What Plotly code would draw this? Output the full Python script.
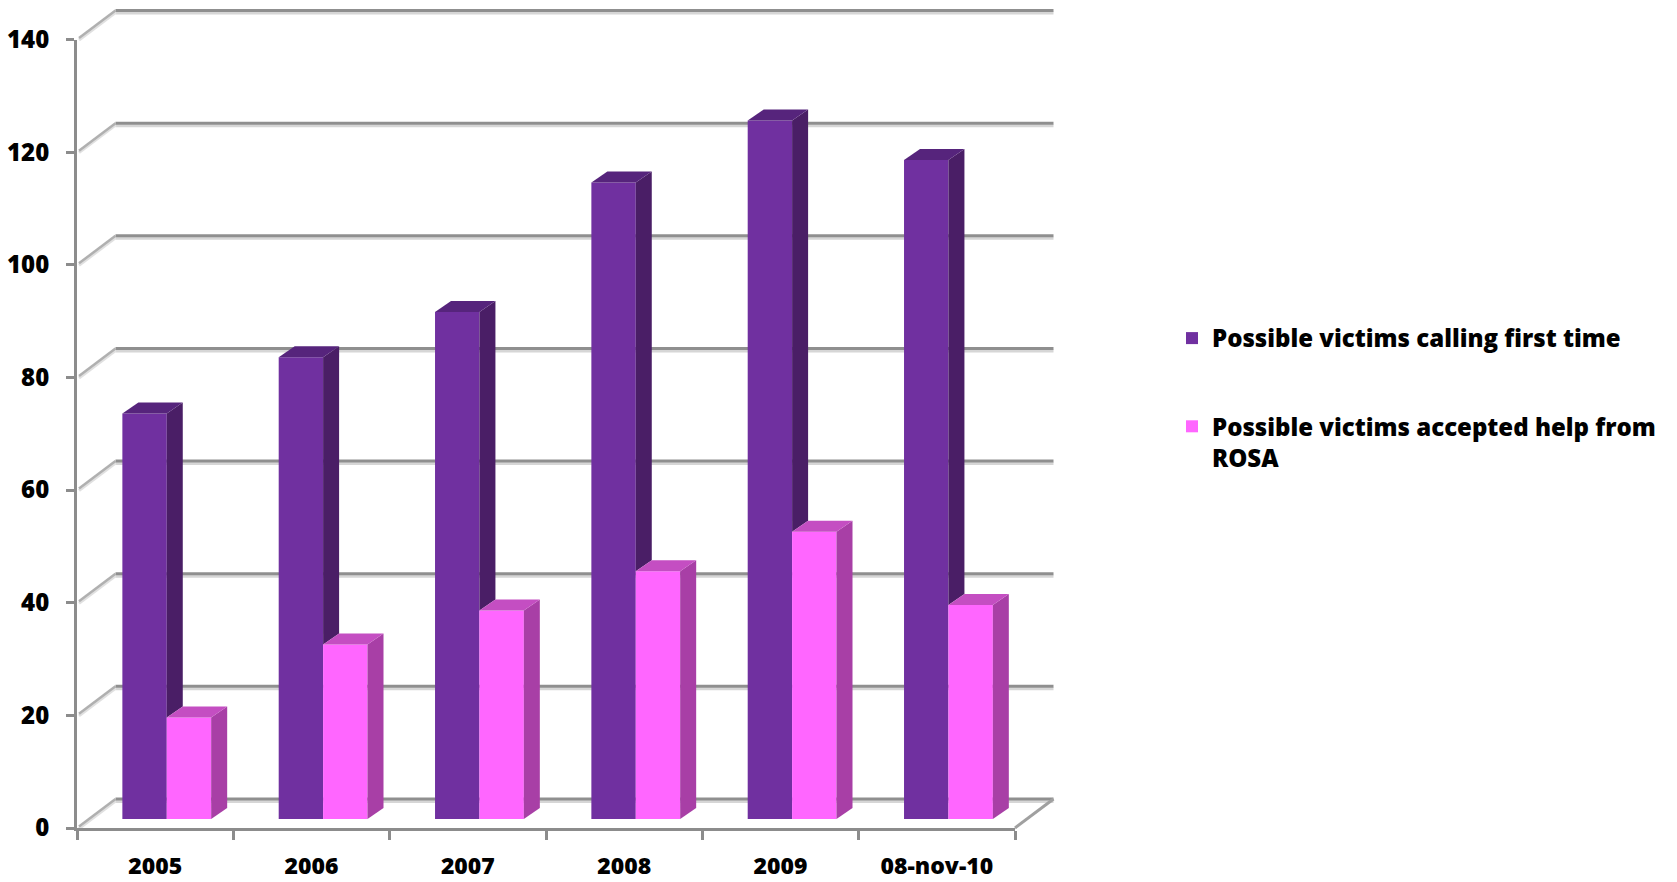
import plotly.graph_objects as go

# ---------------- data ----------------
categories = ["2005", "2006", "2007", "2008", "2009", "08-nov-10"]
first_time = [72, 82, 90, 113, 124, 117]
accepted_help = [18, 31, 37, 44, 51, 38]
y_ticks = [0, 20, 40, 60, 80, 100, 120, 140]
series_names = ["Possible victims calling first time",
                "Possible victims accepted help from<br>ROSA"]

# ---------------- geometry (pixels) ----------------
W, H = 1677, 882
front_left, front_right = 77, 1015      # front x-axis extent
front_bottom, front_top = 828, 39.5     # front y-axis extent (0 .. 140)
n_cat = len(categories)
y_top = y_ticks[-1]
px_cat = (front_right - front_left) / n_cat
px_val = (front_bottom - front_top) / y_top

def dxu(px):
    return px / px_cat

def dyu(px):
    return px / px_val

wall_dx, wall_dy = dxu(38.5), dyu(29)   # back wall offset
bar_dx, bar_dy = dxu(11.6), dyu(9)      # bar front plane offset
side_dx, side_dy = dxu(16), dyu(11)     # bar depth
bar_w = dxu(44.4)

GRAY = "#8c8c8c"
FONT = dict(family="'Open Sans', Lato, sans-serif", size=24, color="black", weight=800)
XFONT = dict(family="'Open Sans', Lato, sans-serif", size=23, color="black", weight=800)

purple = dict(front="#7030A0", side="#4A1E66", top="#56247C")
pink = dict(front="#FF66FF", side="#A83FA6", top="#C44EC2")

fig = go.Figure()

# ---------------- walls subplot (x, y) ----------------
wa_left, wa_right = 67, 1090
wa_bottom, wa_top = 838, 2
wx0 = -(front_left - wa_left) / px_cat
wx1 = (wa_right - front_left) / px_cat
wy0 = -(wa_bottom - front_bottom) / px_val
wy1 = (front_bottom - wa_top) / px_val

def seg_trace(xs, ys, color, width):
    return go.Scatter(x=xs, y=ys, mode="lines", line=dict(color=color, width=width),
                      hoverinfo="skip", showlegend=False, xaxis="x", yaxis="y")

bx, by, bsx, bsy, dgx, dgy = [], [], [], [], [], []
for v in y_ticks:
    yb = v + wall_dy
    bx += [wall_dx, n_cat + wall_dx, None]
    by += [yb, yb, None]
    bsx += [wall_dx, n_cat + wall_dx, None]
    bsy += [yb - dyu(2.5), yb - dyu(2.5), None]
    dgx += [dxu(2), wall_dx, None]
    dgy += [v + dyu(1.5), yb, None]

fig.add_trace(seg_trace(bsx, bsy, "#d6d6d6", 3))
fig.add_trace(seg_trace(bx, by, "#8f8f8f", 3))
fig.add_trace(seg_trace(dgx, [y if y is None else y - dyu(2) for y in dgy], "#e0e0e0", 3))
fig.add_trace(seg_trace(dgx, dgy, "#b0b0b0", 2.5))
# floor right edge
fig.add_trace(seg_trace([n_cat, n_cat + wall_dx], [0, wall_dy], "#a0a0a0", 3))

# ---------------- bars subplot (x2, y2) ----------------
def face(xs, ys, color):
    return go.Scatter(x=xs, y=ys, mode="lines", fill="toself", fillcolor=color,
                      line=dict(width=0, color=color), hoverinfo="skip",
                      showlegend=False, xaxis="x2", yaxis="y2")

purple_x = [i + 0.5 + bar_dx - bar_w / 2 for i in range(n_cat)]
pink_x = [i + 0.5 + bar_dx + bar_w / 2 for i in range(n_cat)]

fig.add_trace(go.Bar(x=purple_x, y=first_time, base=[bar_dy] * n_cat, width=bar_w,
                     name=series_names[0], legendgroup="a",
                     marker=dict(color=purple["front"], line=dict(width=0)),
                     xaxis="x2", yaxis="y2"))
fig.add_trace(go.Bar(x=pink_x, y=accepted_help, base=[bar_dy] * n_cat, width=bar_w,
                     name=series_names[1], legendgroup="b",
                     marker=dict(color=pink["front"], line=dict(width=0)),
                     xaxis="x2", yaxis="y2"))

for i in range(n_cat):
    # purple bar side (visible part above pink bar) and top
    xl = purple_x[i] - bar_w / 2
    xr = purple_x[i] + bar_w / 2
    t = bar_dy + first_time[i]
    b = bar_dy + accepted_help[i]
    fig.add_trace(face([xr, xr, xr + side_dx, xr + side_dx, xr],
                       [b, t, t + side_dy, b + side_dy, b], purple["side"]))
    fig.add_trace(face([xl, xr, xr + side_dx, xl + side_dx, xl],
                       [t, t, t + side_dy, t + side_dy, t], purple["top"]))
    # pink bar side and top
    xl = pink_x[i] - bar_w / 2
    xr = pink_x[i] + bar_w / 2
    t = bar_dy + accepted_help[i]
    b = bar_dy
    fig.add_trace(face([xr, xr, xr + side_dx, xr + side_dx, xr],
                       [b, t, t + side_dy, b + side_dy, b], pink["side"]))
    fig.add_trace(face([xl, xr, xr + side_dx, xl + side_dx, xl],
                       [t, t, t + side_dy, t + side_dy, t], pink["top"]))

fig.update_layout(
    width=W, height=H, autosize=False,
    margin=dict(l=0, r=0, t=0, b=0, pad=0, autoexpand=False),
    paper_bgcolor="white", plot_bgcolor="rgba(0,0,0,0)",
    barmode="overlay",
    showlegend=True,
    legend=dict(x=1172 / W, y=1 - 316 / H, xanchor="left", yanchor="top",
                font=FONT, traceorder="grouped", tracegroupgap=54,
                valign="top", bgcolor="rgba(0,0,0,0)"),
    xaxis=dict(domain=[wa_left / W, wa_right / W], range=[wx0, wx1], visible=False,
               anchor="y", automargin=False),
    yaxis=dict(domain=[1 - wa_bottom / H, 1 - wa_top / H], range=[wy0, wy1], visible=False,
               anchor="x", automargin=False),
    xaxis2=dict(domain=[front_left / W, front_right / W], range=[0, n_cat], anchor="y2",
                automargin=False,
                showline=True, linecolor=GRAY, linewidth=3, showgrid=False, zeroline=False,
                tickmode="array", tickvals=[i + 0.5 for i in range(n_cat)], ticktext=categories,
                ticks="", tickfont=XFONT, ticklabelstandoff=15,
                minor=dict(tickmode="array", tickvals=list(range(n_cat + 1)), ticks="outside",
                           ticklen=9, tickwidth=3, tickcolor=GRAY, showgrid=False)),
    yaxis2=dict(domain=[1 - front_bottom / H, 1 - front_top / H], range=[0, y_top], anchor="x2",
                automargin=False,
                showline=True, linecolor=GRAY, linewidth=3, showgrid=False, zeroline=False,
                tickmode="array", tickvals=y_ticks, ticks="outside", ticklen=8, tickwidth=3,
                tickcolor=GRAY, tickfont=FONT, ticklabelstandoff=12),
)

fig.write_html("out.html")
